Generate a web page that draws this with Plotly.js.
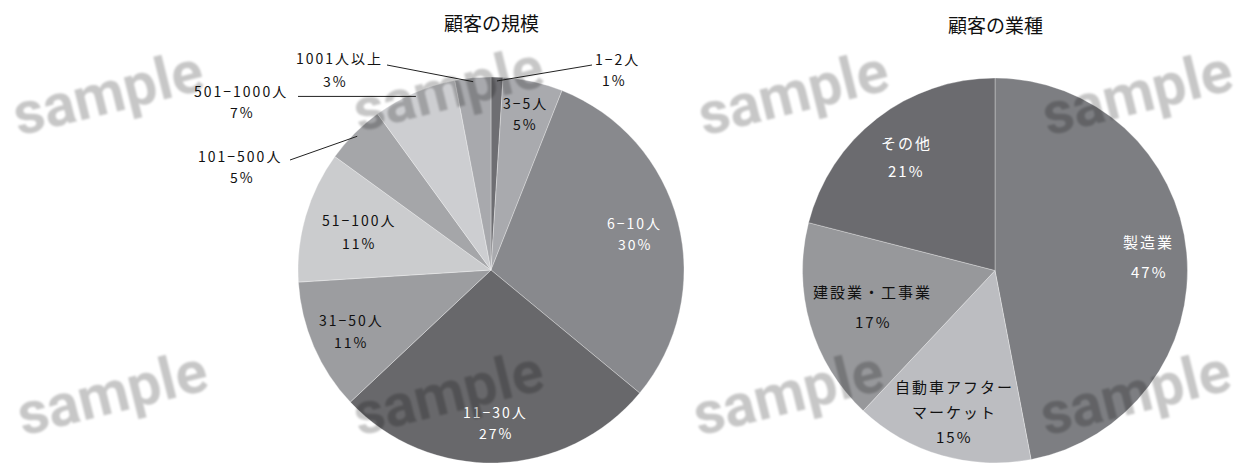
<!DOCTYPE html>
<html>
<head>
<meta charset="utf-8">
<script src="https://cdn.plot.ly/plotly-3.0.1.min.js"></script>
<style>
  html, body { margin: 0; padding: 0; background: #fff; }
  #chart { width: 1238px; height: 463px; }
</style>
</head>
<body>
<div id="chart"></div>
<script>
// ---- data ----
const sizeLabels = ['1−2人', '3−5人', '6−10人', '11−30人', '31−50人', '51−100人', '101−500人', '501−1000人', '1001人以上'];
const sizeValues = [1, 5, 30, 27, 11, 11, 5, 7, 3];

const industryLabels = ['製造業', '自動車アフターマーケット', '建設業・工事業', 'その他'];
const industryValues = [47, 15, 17, 21];
// line breaks used when a category name is printed on the chart
const industryLabelLines = [['製造業'], ['自動車アフター', 'マーケット'], ['建設業・工事業'], ['その他']];

const chartTitles = ['顧客の規模', '顧客の業種'];
const watermarkText = 'sample';

// ---- styling ----
const W = 1238, H = 463;
const sizeColors = ['#6e6e72', '#a9aaae', '#88898d', '#68686b', '#9c9da0', '#cbccce', '#a5a6a9', '#cdced1', '#a8a9ad'];
const industryColors = ['#7d7e82', '#bcbdc1', '#97989b', '#6b6b6f'];

// pie geometry in pixels
const leftPie = { cx: 491, cy: 270, r: 193 };
const rightPie = { cx: 995, cy: 271, r: 193 };

// label placement per slice: inside labels use a radial fraction,
// outside labels give the text position and the elbow of the leader line
const sizeLabelStyle = [
  { out: true, name: [617, 59], pct: [614, 80], elbow: [592, 65] },
  { frac: 0.83, gap: 21, color: '#111' },
  { frac: 0.77, gap: 21, color: '#fff' },
  { frac: 0.79, gap: 21, color: '#fff' },
  { frac: 0.79, gap: 22, color: '#111' },
  { frac: 0.71, gap: 23, color: '#111' },
  { out: true, name: [240, 156], pct: [242, 177], elbow: [290, 160] },
  { out: true, name: [241, 91], pct: [242, 112], elbow: [298, null] },
  { out: true, name: [339, 58], pct: [335, 81], elbow: [387, 65] }
];
const industryLabelStyle = [
  { frac: 0.80, gap: 30, color: '#fff' },
  { frac: 0.76, gap: 25, color: '#111' },
  { frac: 0.66, gap: 30, color: '#111' },
  { frac: 0.75, gap: 28, color: '#fff' }
];

const labelFont = 'Noto Sans CJK JP, Noto Sans, sans-serif';

const X = x => x / W;
const Y = y => 1 - y / H;

function domainOf(p) {
  return {
    x: [(p.cx - p.r) / W, (p.cx + p.r) / W],
    y: [Math.max(0, 1 - (p.cy + p.r) / H), 1 - (p.cy - p.r) / H]
  };
}

// mid angle of each slice, clockwise from 12 o'clock
function midAngles(values) {
  const total = values.reduce((a, b) => a + b, 0);
  let cum = 0;
  return values.map(v => {
    const a = (cum + v / 2) / total * 2 * Math.PI;
    cum += v;
    return a;
  });
}
function pointAt(p, ang, frac) {
  return [p.cx + p.r * frac * Math.sin(ang), p.cy - p.r * frac * Math.cos(ang)];
}
function spaced(t, ls) {
  return '<span style="letter-spacing:' + ls + 'px">' + t + '</span>';
}
function textAnn(t, x, y, color, size, ls) {
  return {
    text: spaced(t, ls), x: X(x), y: Y(y), xref: 'paper', yref: 'paper',
    xanchor: 'center', yanchor: 'middle', showarrow: false,
    font: { family: labelFont, size: size, color: color }
  };
}

const annotations = [];
const shapes = [];

function addLabels(p, values, lineSets, styles, size, ls) {
  const total = values.reduce((a, b) => a + b, 0);
  const angs = midAngles(values);
  values.forEach((v, i) => {
    const st = styles[i];
    const pct = Math.round(v / total * 100) + '%';
    if (st.out) {
      annotations.push(textAnn(lineSets[i][0], st.name[0], st.name[1], '#111', size, ls));
      annotations.push(textAnn(pct, st.pct[0], st.pct[1], '#111', size, ls));
      const edge = pointAt(p, angs[i], 0.98);
      const elbow = [st.elbow[0], st.elbow[1] === null ? edge[1] : st.elbow[1]];
      shapes.push({
        type: 'line', xref: 'paper', yref: 'paper',
        x0: X(elbow[0]), y0: Y(elbow[1]), x1: X(edge[0]), y1: Y(edge[1]),
        line: { color: '#222', width: 1 }
      });
    } else {
      const c = pointAt(p, angs[i], st.frac);
      const lines = lineSets[i].concat([pct]);
      const n = lines.length;
      lines.forEach((t, k) => {
        const y = c[1] + (k - (n - 1) / 2) * st.gap;
        annotations.push(textAnn(t, c[0], y, st.color, size, ls));
      });
    }
  });
}

addLabels(leftPie, sizeValues, sizeLabels.map(s => [s]), sizeLabelStyle, 14, 2);
addLabels(rightPie, industryValues, industryLabelLines, industryLabelStyle, 15, 2);

// chart titles
annotations.push(textAnn(chartTitles[0], leftPie.cx, 22, '#111', 19, 0));
annotations.push(textAnn(chartTitles[1], rightPie.cx, 25, '#111', 19, 0));

// watermark stamps
const wmStart = annotations.length;
const wmCenters = [[108, 93], [448, 88], [793, 92], [1137, 92], [112, 392], [448, 392], [788, 392], [1135, 392]];
wmCenters.forEach(c => {
  annotations.push({
    text: '<b>' + watermarkText + '</b>', x: X(c[0]), y: Y(c[1]), xref: 'paper', yref: 'paper',
    xanchor: 'center', yanchor: 'middle', showarrow: false, textangle: -14,
    font: { family: 'Roboto, Liberation Sans, Arial, sans-serif', size: 59, color: 'rgba(0,0,0,0.22)' }
  });
});

const traces = [
  {
    type: 'pie', labels: sizeLabels, values: sizeValues, sort: false,
    direction: 'clockwise', rotation: 0, textinfo: 'none', hoverinfo: 'label+percent',
    marker: { colors: sizeColors, line: { color: 'rgba(255,255,255,0.45)', width: 0.7 } },
    domain: domainOf(leftPie), showlegend: false
  },
  {
    type: 'pie', labels: industryLabels, values: industryValues, sort: false,
    direction: 'clockwise', rotation: 0, textinfo: 'none', hoverinfo: 'label+percent',
    marker: { colors: industryColors, line: { color: 'rgba(255,255,255,0.45)', width: 0.7 } },
    domain: domainOf(rightPie), showlegend: false
  }
];

const layout = {
  width: W, height: H,
  margin: { l: 0, r: 0, t: 0, b: 0 },
  paper_bgcolor: '#fff', plot_bgcolor: '#fff',
  showlegend: false,
  annotations: annotations,
  shapes: shapes
};

Plotly.newPlot('chart', traces, layout, { displayModeBar: false, staticPlot: true }).then(gd => {
  // soften the watermark stamps
  const svg = gd.querySelector('svg.main-svg');
  const ns = 'http://www.w3.org/2000/svg';
  let defs = svg.querySelector('defs');
  if (!defs) { defs = document.createElementNS(ns, 'defs'); svg.insertBefore(defs, svg.firstChild); }
  const f = document.createElementNS(ns, 'filter');
  f.setAttribute('id', 'wm-soft');
  f.setAttribute('x', '-20%'); f.setAttribute('y', '-20%');
  f.setAttribute('width', '140%'); f.setAttribute('height', '140%');
  const b = document.createElementNS(ns, 'feGaussianBlur');
  b.setAttribute('stdDeviation', '1.1');
  f.appendChild(b);
  defs.appendChild(f);
  gd.querySelectorAll('g.annotation').forEach(g => {
    const idx = +g.getAttribute('data-index');
    if (idx >= wmStart) g.setAttribute('filter', 'url(#wm-soft)');
  });
});
</script>
</body>
</html>
